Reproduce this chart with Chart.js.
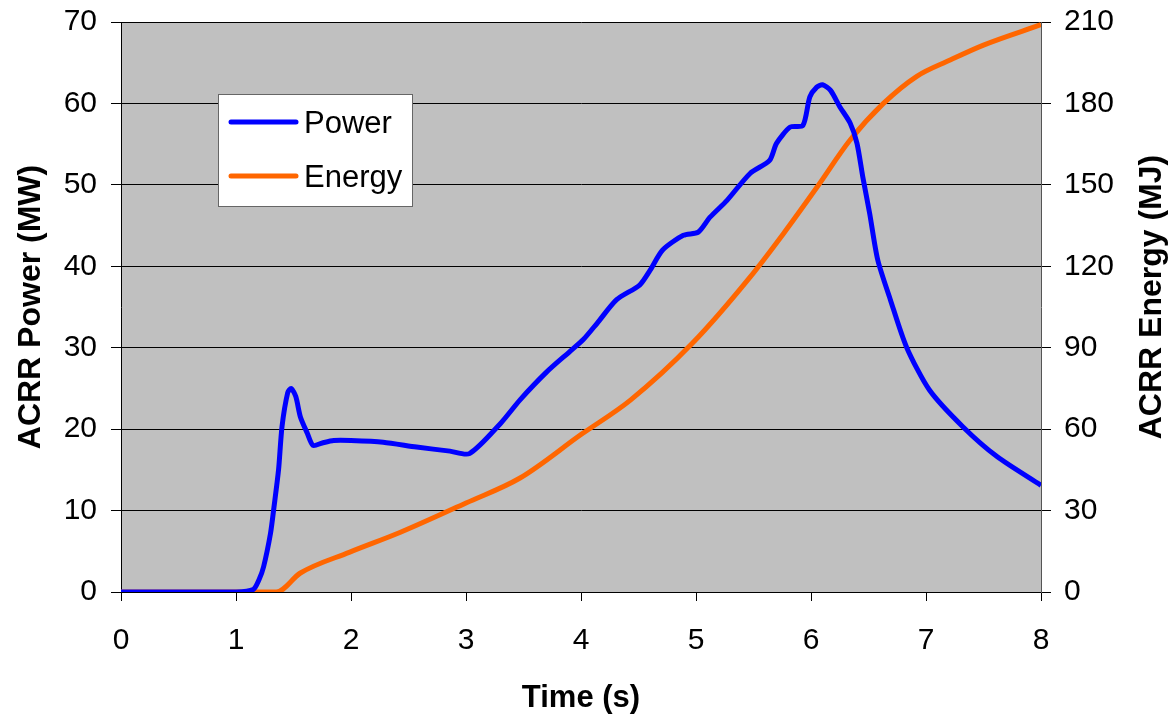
<!DOCTYPE html>
<html>
<head>
<meta charset="utf-8">
<script src="https://cdn.jsdelivr.net/npm/chart.js@4.4.1/dist/chart.umd.min.js"></script>
<style>
  html, body { margin: 0; padding: 0; background: #fff; }
  #wrap { width: 1172px; height: 717px; }
</style>
</head>
<body>
<div id="wrap"><canvas id="chart" width="1172" height="717"></canvas></div>
<script>
// values
const powerTimes = [0, 1.0, 1.15, 1.2, 1.24, 1.3, 1.33, 1.37, 1.4, 1.45, 1.48, 1.52, 1.56, 1.62, 1.67, 1.75, 1.85, 2.0, 2.28, 2.57, 2.86, 3.03, 3.3, 3.47, 3.7, 3.9, 4.02, 4.14, 4.31, 4.51, 4.6, 4.71, 4.89, 5.02, 5.12, 5.27, 5.47, 5.64, 5.7, 5.82, 5.93, 5.99, 6.05, 6.1, 6.17, 6.25, 6.34, 6.4, 6.45, 6.51, 6.58, 6.69, 6.83, 7.03, 7.32, 7.62, 8.0];
const powerMW = [0, 0, 0.3, 1.5, 3.1, 7.2, 10.4, 15, 20.3, 24.5, 25, 24, 21.5, 19.5, 18, 18.3, 18.6, 18.6, 18.4, 17.8, 17.3, 17.0, 20.7, 23.6, 27, 29.5, 31, 33, 35.9, 37.7, 39.5, 42, 43.8, 44.2, 46, 48.1, 51.4, 53, 55.1, 57.1, 57.3, 60.8, 62, 62.3, 61.6, 59.6, 57.6, 55.1, 51, 46.5, 40.8, 35.9, 30.1, 24.8, 20.3, 16.6, 13.1];

const energyTimes = [0, 1.35, 1.56, 1.99, 2.43, 3.0, 3.47, 4.0, 4.43, 4.97, 5.47, 5.76, 6.05, 6.34, 6.63, 6.92, 7.21, 7.5, 8.0];
const energyMJ = [0, 0, 7, 14.7, 22, 32.8, 42, 58, 70.7, 91.7, 116, 132, 149, 166.5, 180, 190, 196, 201.5, 209];

const xTicks = [0, 1, 2, 3, 4, 5, 6, 7, 8];
const powerTicks = [0, 10, 20, 30, 40, 50, 60, 70];
const energyTicks = [0, 30, 60, 90, 120, 150, 180, 210];

const seriesNames = ['Power', 'Energy'];
const seriesColors = ['#0000FF', '#FF6600'];
const energyTitle = 'ACRR Energy (MJ)';

const FONT = "'Liberation Sans', Arial, sans-serif";

const toPoints = (xs, ys) => xs.map((x, i) => ({ x, y: ys[i] }));

// grey plot background, dark right frame, upward-reading right title
const plotBg = {
    id: 'plotBg',
    beforeDraw(chart) {
        const { ctx, chartArea: a } = chart;
        ctx.save();
        ctx.fillStyle = '#C0C0C0';
        ctx.fillRect(a.left, a.top, a.right - a.left, a.bottom - a.top);
        ctx.restore();
    },
    afterDraw(chart) {
        const { ctx, chartArea: a } = chart;
        ctx.save();
        ctx.translate(1152, (a.top + a.bottom) / 2 - 10);
        ctx.rotate(-Math.PI / 2);
        ctx.font = 'bold 32px ' + FONT;
        ctx.fillStyle = '#000';
        ctx.textAlign = 'center';
        ctx.textBaseline = 'middle';
        ctx.fillText(energyTitle, 0, 0);
        ctx.restore();
    }
};

// boxed legend inside the plot, like the original
const boxLegend = {
    id: 'boxLegend',
    afterDatasetsDraw(chart) {
        const { ctx, chartArea: a } = chart;
        const x = a.left + 97, y = a.top + 72, w = 194, h = 112;
        ctx.save();
        ctx.fillStyle = '#fff';
        ctx.fillRect(x, y, w, h);
        ctx.strokeStyle = '#666';
        ctx.lineWidth = 1;
        ctx.strokeRect(x + 0.5, y + 0.5, w, h);
        ctx.font = '31px ' + FONT;
        ctx.textBaseline = 'middle';
        seriesNames.forEach((name, i) => {
            const ly = y + 28 + i * 54;
            ctx.strokeStyle = seriesColors[i];
            ctx.lineWidth = 5;
            ctx.lineCap = 'round';
            ctx.beginPath();
            ctx.moveTo(x + 13, ly);
            ctx.lineTo(x + 78, ly);
            ctx.stroke();
            ctx.fillStyle = '#000';
            ctx.fillText(name, x + 86, ly + 2);
        });
        ctx.restore();
    }
};

new Chart(document.getElementById('chart'), {
    type: 'line',
    data: {
        datasets: [
            {
                label: seriesNames[0],
                data: toPoints(powerTimes, powerMW),
                borderColor: seriesColors[0],
                borderWidth: 5,
                pointRadius: 0,
                tension: 0.25,
                yAxisID: 'yP'
            },
            {
                label: seriesNames[1],
                data: toPoints(energyTimes, energyMJ),
                borderColor: seriesColors[1],
                borderWidth: 5,
                pointRadius: 0,
                cubicInterpolationMode: 'monotone',
                yAxisID: 'yE'
            }
        ]
    },
    options: {
        responsive: false,
        animation: false,
        layout: { padding: { top: 22, left: 0, right: 0, bottom: 0 } },
        plugins: { legend: { display: false }, tooltip: { enabled: false } },
        scales: {
            x: {
                type: 'linear',
                min: 0, max: 8,
                afterBuildTicks: s => { s.ticks = xTicks.map(v => ({ value: v })); },
                afterFit: s => { s.height = 125; s.paddingLeft = 0; s.paddingRight = 0; },
                grid: { drawOnChartArea: false, color: '#000', tickLength: 9 },
                border: { color: '#000', width: 1 },
                ticks: { color: '#000', font: { family: FONT, size: 30 }, padding: 22, maxRotation: 0 },
                title: { display: true, text: 'Time (s)', color: '#000', font: { family: FONT, size: 31, weight: 'bold' }, padding: { top: 4, bottom: 0 } }
            },
            yP: {
                position: 'left',
                min: 0, max: 70,
                afterBuildTicks: s => { s.ticks = powerTicks.map(v => ({ value: v })); },
                afterFit: s => { s.width = 121; s.paddingTop = 0; s.paddingBottom = 0; },
                grid: { color: '#000', lineWidth: 1, tickLength: 10 },
                border: { color: '#000', width: 1 },
                ticks: { color: '#000', font: { family: FONT, size: 30 }, padding: 14 },
                title: { display: true, text: 'ACRR Power (MW)', color: '#000', font: { family: FONT, size: 32, weight: 'bold' }, padding: { top: 12, bottom: 4 } }
            },
            yE: {
                position: 'right',
                min: 0, max: 210,
                afterBuildTicks: s => { s.ticks = energyTicks.map(v => ({ value: v })); },
                afterFit: s => { s.width = 131; s.paddingTop = 0; s.paddingBottom = 0; },
                grid: { drawOnChartArea: false, color: '#000', tickLength: 10 },
                border: { color: '#555', width: 1 },
                ticks: { color: '#000', font: { family: FONT, size: 30 }, padding: 13 },
                title: { display: false }
            }
        }
    },
    plugins: [plotBg, boxLegend]
});
</script>
</body>
</html>
